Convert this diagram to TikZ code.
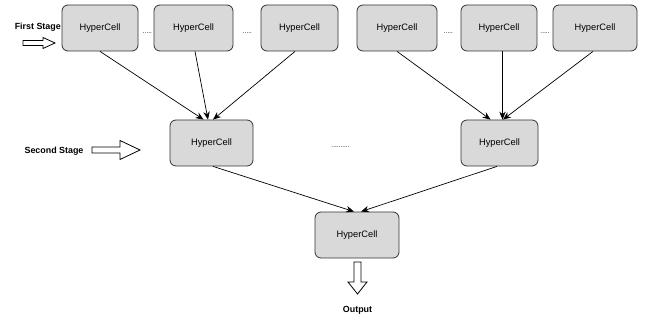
\documentclass[tikz,border=0pt]{standalone}
\usepackage{fontspec}
\setmainfont{Liberation Sans}
\usetikzlibrary{arrows.meta}
\begin{document}
\begin{tikzpicture}[x=1pt,y=-1pt,
  cell/.style={draw=black!80, line width=0.8pt, fill=black!15, rounded corners=6pt,
    minimum height=46pt, inner sep=0pt, font=\fontsize{9.3}{11}\selectfont},
  lbl/.style={inner sep=0pt, font=\fontsize{8.9}{10}\selectfont\bfseries},
  dotsnode/.style={inner sep=0pt, font=\fontsize{6.5}{7}\selectfont},
  conn/.style={line width=0.7pt, -{Stealth[length=8pt,width=6.5pt]}},
  bigarrow/.style={draw=black, line width=0.8pt, fill=white}
]
\useasboundingbox (0,0) rectangle (652,320);
% first stage
\node[cell, minimum width=76pt] (t1) at (100,28) {HyperCell};
\node[cell, minimum width=79pt] (t2) at (193.5,28) {HyperCell};
\node[cell, minimum width=77pt] (t3) at (299.5,28) {HyperCell};
\node[cell, minimum width=80pt] (t4) at (397,28) {HyperCell};
\node[cell, minimum width=76pt] (t5) at (499,28) {HyperCell};
\node[cell, minimum width=84pt] (t6) at (595,28) {HyperCell};
% second stage
\node[cell, minimum width=83pt] (s1) at (211.5,143) {HyperCell};
\node[cell, minimum width=77pt] (s2) at (499.5,143) {HyperCell};
% final
\node[cell, minimum width=84pt] (f) at (357,235) {HyperCell};
% dots
\node[dotsnode] (d1) at (147.5,33) {.....};
\node[dotsnode] (d2) at (247.5,33) {.....};
\node[dotsnode] (d3) at (448.5,33) {.....};
\node[dotsnode] (d4) at (545,33) {.....};
\node[dotsnode] (d5) at (340.5,147) {..........};
% labels
\node[lbl, anchor=east] (l1) at (61,27) {First Stage};
\node[lbl] (l2) at (54,151) {Second Stage};
\node[lbl] (l3) at (357.5,310) {Output};
% connectors
\draw[conn] (t1.south) -- ([xshift=-8pt]s1.north);
\draw[conn] ([xshift=1.5pt]t2.south) -- ([xshift=-3.5pt]s1.north);
\draw[conn] ([xshift=-4.5pt]t3.south) -- ([xshift=1.5pt]s1.north);
\draw[conn] (t4.south) -- ([xshift=-9pt]s2.north);
\draw[conn] ([xshift=3.5pt]t5.south) -- ([xshift=3pt]s2.north);
\draw[conn] ([xshift=-2pt]t6.south) -- ([xshift=3.5pt]s2.north);
\draw[conn] ([xshift=1.5pt]s1.south) -- ([xshift=-3pt]f.north);
\draw[conn] ([xshift=-2.5pt]s2.south) -- ([xshift=4pt]f.north);
% block arrows
\draw[bigarrow] (23,40.5) -- (43,40.5) -- (43,37.5) -- (55,43) -- (43,48.5) -- (43,45.5) -- (23,45.5) -- cycle;
\draw[bigarrow] (92,147) -- (120,147) -- (120,140.5) -- (140,150) -- (120,159.5) -- (120,153) -- (92,153) -- cycle;
\draw[bigarrow] (354,262) -- (354,282) -- (348,282) -- (357.5,294) -- (367,282) -- (361,282) -- (361,262) -- cycle;
\end{tikzpicture}
\end{document}
